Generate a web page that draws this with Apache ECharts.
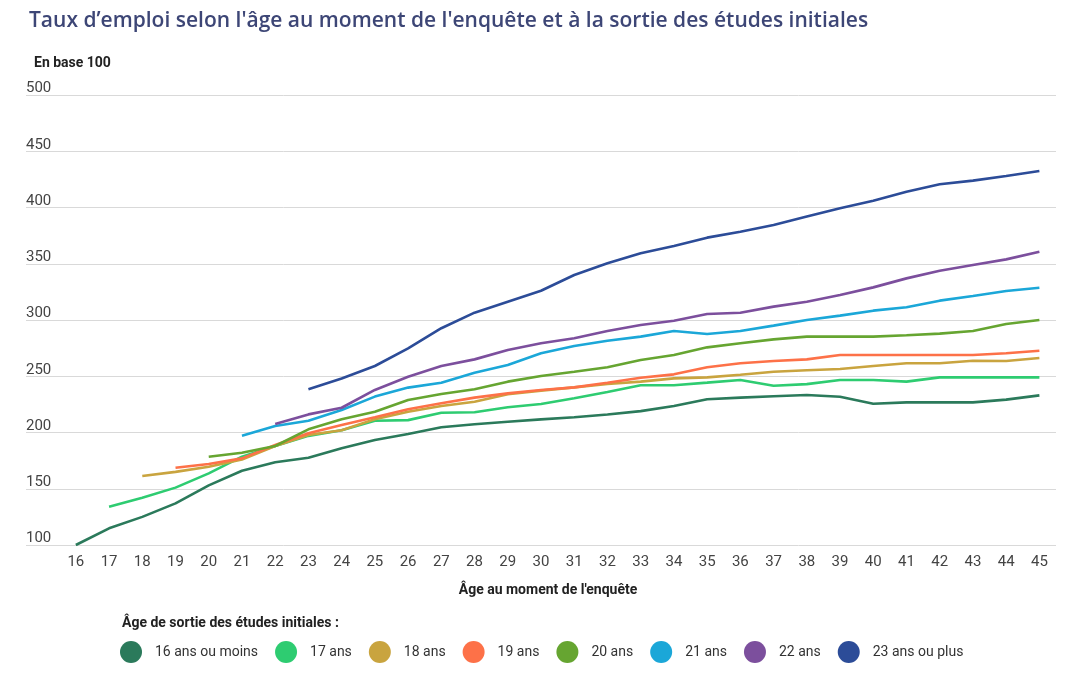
<!DOCTYPE html>
<html>
<head>
<meta charset="utf-8">
<script src="https://cdn.jsdelivr.net/npm/echarts@6/dist/echarts.min.js"></script>
<style>
html,body{margin:0;padding:0;background:#fff;}
#chart{width:1080px;height:674px;}
</style>
</head>
<body>
<div id="chart"></div>
<script>
const titleText = "Taux d’emploi selon l'âge au moment de l'enquête et à la sortie des études initiales";
const unitText = "En base 100";
const xAxisName = "Âge au moment de l'enquête";
const legendTitle = "Âge de sortie des études initiales :";
const ages = [16,17,18,19,20,21,22,23,24,25,26,27,28,29,30,31,32,33,34,35,36,37,38,39,40,41,42,43,44,45];
const seriesNames = ["16 ans ou moins","17 ans","18 ans","19 ans","20 ans","21 ans","22 ans","23 ans ou plus"];
const startAges = [16,17,18,19,20,21,22,23];
const colors = ["#2b7a5b","#2ecc71","#c9a43f","#fd7148","#66a531","#1ba7d8","#7c4f9d","#2c4c98"];

const s16 = [100,114.8,125,137,153,166,173.5,177.6,186,193.3,198.7,204.6,207.3,209.6,211.7,213.5,216,219,223.5,229.5,231,232.2,233.3,231.8,225.6,226.8,226.8,226.8,229.2,233];
const s17 = [134,142,151,163.7,178.5,188,197,202,210.5,211,217.6,218,222.4,225.3,230.4,236,242,242,244.3,246.7,241.6,243,246.7,246.7,245.2,249,249,249,249];
const s18 = [161.3,165,169.6,176,188,197.8,202,211.7,218.5,223.6,227.4,234,237.2,240.1,243.1,245.2,248.1,249,251.4,254,255.3,256.4,259.1,261.5,261.5,263.8,263.6,266.2];
const s19 = [168.7,172,177,188.9,199.3,206.7,213.5,220.6,226,231,234.8,237.8,240.1,244.3,248.7,251.7,258,261.5,263.6,265,268.9,268.9,268.9,268.9,268.9,270.4,272.7];
const s20 = [178.5,182,188,202.8,211.7,218.5,228.9,234.2,238.4,245.2,250.2,254,258,264.4,268.9,275.7,279.3,282.8,285.2,285.2,285.2,286.4,287.9,290.2,296.4,300];
const s21 = [197.2,205.8,210.5,220,231.9,239.9,244.3,253.2,260,270.4,276.9,281.6,285.2,290.2,287.6,290.2,295,300,303.9,308.3,311.3,317.2,321.3,325.8,328.7];
const s22 = [207.6,216.1,222,237.8,249.6,259.1,265,273.3,279.3,283.7,290.2,295.6,299.4,305.3,306.5,311.9,316.3,322.2,329,337,343.8,348.9,353.9,360.7];
const s23 = [238.4,248,259.1,274.8,292.7,306.5,316.3,326,340,350.4,359.3,365.8,373.2,378.5,384.4,391.9,399.3,406,414,420.6,423.9,428,432.4];
const allValues = [s16,s17,s18,s19,s20,s21,s22,s23];
const yTicks = [100,150,200,250,300,350,400,450,500];

const chart = echarts.init(document.getElementById('chart'), null, {renderer:'canvas'});
const series = allValues.map((vals, k) => ({
  name: seriesNames[k],
  type: 'line',
  showSymbol: false,
  symbol: 'none',
  smooth: false,
  lineStyle: {width: 2.6, color: colors[k]},
  itemStyle: {color: colors[k]},
  data: vals.map((v, i) => [startAges[k] + i, v])
}));

chart.setOption({
  animation: false,
  backgroundColor: '#fff',
  textStyle: {fontFamily: 'Roboto'},
  title: [
    {text: titleText, left: 24, top: 6, textStyle: {fontFamily: 'Open Sans', fontSize: 21, fontWeight: 600, color: '#3d4676'}},
    {text: unitText, left: 29, top: 51, textStyle: {fontFamily: 'Roboto', fontSize: 14, fontWeight: 'bold', color: '#222'}},
    {text: legendTitle, left: 117, top: 611, textStyle: {fontFamily: 'Roboto', fontSize: 14, fontWeight: 'bold', color: '#222'}}
  ],
  legend: {
    left: 115, top: 636,
    icon: 'circle',
    itemWidth: 22, itemHeight: 22,
    itemGap: 17,
    data: seriesNames,
    textStyle: {fontFamily: 'Roboto', fontSize: 14, color: '#333', padding: [0,0,0,8]}
  },
  grid: {left: 26, right: 24, top: 95, bottom: 129, containLabel: false},
  xAxis: {
    type: 'value', min: 14.5, max: 45.5, interval: 0.5,
    name: xAxisName, nameLocation: 'middle', nameGap: 38,
    nameTextStyle: {fontFamily: 'Roboto', fontSize: 14, fontWeight: 'bold', color: '#222', padding: [0,0,0,14]},
    axisLine: {show: false}, axisTick: {show: false}, splitLine: {show: false},
    axisLabel: {
      margin: 10, fontSize: 15, color: '#444', fontFamily: 'Roboto',
      formatter: v => (Number.isInteger(v) && ages.includes(v)) ? String(v) : ''
    }
  },
  yAxis: {
    type: 'value', min: yTicks[0], max: yTicks[yTicks.length-1], interval: 50,
    axisLine: {show: false}, axisTick: {show: false},
    splitLine: {lineStyle: {color: '#d9d9d9', width: 1}},
    axisLabel: {inside: true, margin: 0, align: 'left', verticalAlign: 'bottom', padding: [0,0,-1,0], fontSize: 15, color: '#444', fontFamily: 'Roboto'}
  },
  series: series
});
</script>
</body>
</html>
